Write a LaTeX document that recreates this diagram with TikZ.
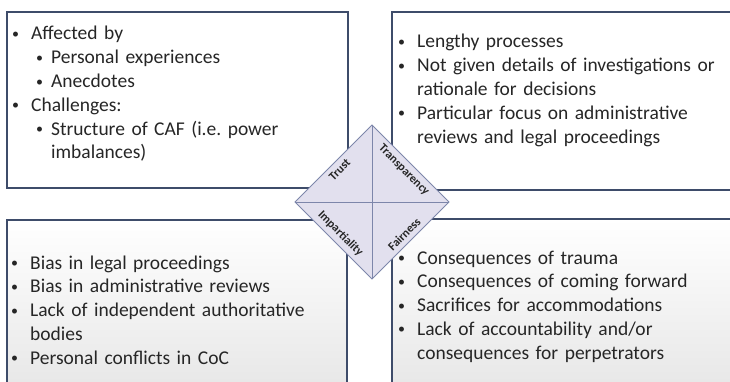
\documentclass[tikz,border=0pt]{standalone}
\usepackage{fontspec}
\setmainfont{Carlito}
\usetikzlibrary{shapes.geometric}
\definecolor{boxline}{RGB}{62,76,106}
\definecolor{quadfill}{RGB}{226,224,238}
\definecolor{quadline}{RGB}{125,134,170}
\definecolor{txt}{RGB}{38,38,38}
% bullet points, first and second level, and wrapped lines
\newcommand{\blt}{\raisebox{1.5pt}{\fontsize{14}{14}\selectfont\textbullet}}
\newcommand{\itm}[1]{\par\noindent\makebox[19pt][l]{\blt}#1}
\newcommand{\subitm}[1]{\par\noindent\hspace*{24pt}\makebox[15pt][l]{\blt}#1}
\newcommand{\wrap}{\newline\hspace*{19pt}}
\newcommand{\subwrap}{\newline\hspace*{39pt}}

\begin{document}
\begin{tikzpicture}[x=1pt,y=-1pt]
\tikzstyle{topbox}=[draw=boxline, line width=2.2pt, fill=white]
\tikzstyle{lowbox}=[draw=boxline, line width=2.2pt, top color=white, bottom color=gray!20]
\tikzstyle{points}=[anchor=north west, inner sep=0pt, align=left, text=txt, font=\fontsize{19.5}{23.8}\selectfont]
\tikzstyle{quad}=[diamond, draw=quadline, fill=quadfill, line width=1pt, minimum width=154pt, minimum height=154pt, inner sep=0pt, outer sep=0pt]
\tikzstyle{value}=[font=\bfseries\fontsize{12}{13}\selectfont, text=txt, inner sep=4.5pt]

\useasboundingbox (0,0) rectangle (730,382);
\clip (0,0) rectangle (730,382);

%les quatre cadres
\path[topbox] (7,12) rectangle (348,188);
\path[topbox] (392,12) rectangle (745,190);
\path[lowbox] (7,220) rectangle (347,400);
\path[lowbox] (392,219) rectangle (745,400);

%les textes
\node[points, text width=275pt] (trustpts) at (12,16) {\itm{Affected by}\subitm{Personal experiences}\subitm{Anecdotes}\itm{Challenges:}\subitm{Structure of CAF (i.e.\ power\subwrap imbalances)}};
\node[points, text width=325pt] (transpts) at (398,24) {\itm{Lengthy processes}\itm{Not given details of investigations or\wrap rationale for decisions}\itm{Particular focus on administrative\wrap reviews and legal proceedings}};
\node[points, text width=300pt] (impartpts) at (11,245) {\itm{Bias in legal proceedings}\itm{Bias in administrative reviews}\itm{Lack of independent authoritative\wrap bodies}\itm{Personal conflicts in CoC}};
\node[points, text width=300pt] (fairpts) at (398,240) {\itm{Consequences of trauma}\itm{Consequences of coming forward}\itm{Sacrifices for accommodations}\itm{Lack of accountability and/or\wrap consequences for perpetrators}};

%le losange
\node[quad] (quad) at (372,202) {};
\draw[quadline, line width=0.8pt] (quad.north) -- (quad.south);
\draw[quadline, line width=0.8pt] (quad.west) -- (quad.east);
\node[value, rotate=45, anchor=north] (trust) at (quad.north west) {Trust};
\node[value, rotate=-45, anchor=north] (transp) at (quad.north east) {Transparency};
\node[value, rotate=-45, anchor=south] (impart) at (quad.south west) {Impartiality};
\node[value, rotate=45, anchor=south] (fair) at (quad.south east) {Fairness};
\end{tikzpicture}
\end{document}
